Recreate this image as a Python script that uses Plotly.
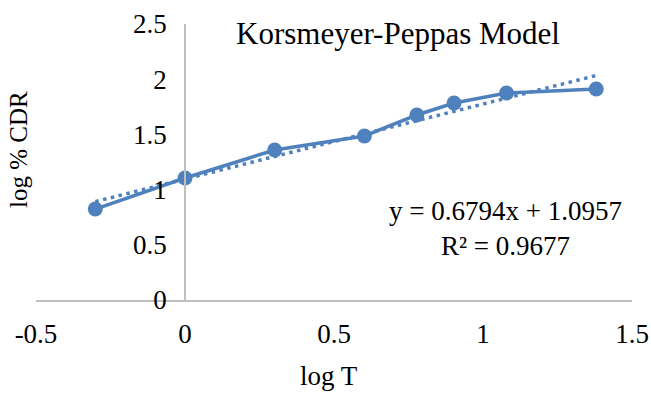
import plotly.graph_objects as go

log_t = [-0.301, 0.0, 0.301, 0.602, 0.778, 0.903, 1.079, 1.380]
log_cdr = [0.824, 1.105, 1.359, 1.486, 1.676, 1.784, 1.875, 1.911]
slope = 0.6794
intercept = 1.0957
r2 = 0.9677
x_ticks = [-0.5, 0, 0.5, 1, 1.5]
y_ticks = [0, 0.5, 1, 1.5, 2, 2.5]

blue = "#4F81BD"
font = "Liberation Serif, Times New Roman, serif"
trend_y = [slope * v + intercept for v in log_t]

W, H = 651, 393
l, r, t, b = 36, 19, 24, 93
pw, ph = W - l - r, H - t - b
def px(xp):
    return (xp - l) / pw
def py(yp):
    return (H - b - yp) / ph

fig = go.Figure()
fig.add_trace(go.Scatter(x=log_t, y=trend_y, mode="lines",
                         line=dict(color=blue, width=3.5, dash="3.5px,4.5px"), showlegend=False))
fig.add_trace(go.Scatter(x=log_t, y=log_cdr, mode="lines+markers",
                         line=dict(color=blue, width=3.5),
                         marker=dict(color=blue, size=15), showlegend=False))

fig.update_layout(
    width=W, height=H,
    margin=dict(l=l, r=r, t=t, b=b, autoexpand=False),
    paper_bgcolor="white", plot_bgcolor="white",
    font=dict(family=font, size=24, color="black"),
    xaxis=dict(range=[-0.5, 1.5], tickvals=x_ticks, ticktext=[str(v) for v in x_ticks],
               showgrid=False, zeroline=False, showline=True, linecolor="#BFBFBF",
               linewidth=1.5, ticks="", ticklabelstandoff=9, tickfont=dict(size=27),
               automargin=False),
    yaxis=dict(range=[0, 2.5], tickvals=y_ticks, ticktext=[str(v) for v in y_ticks],
               showgrid=False, zeroline=False, showline=True, linecolor="#BFBFBF",
               linewidth=1.5, ticks="", anchor="free", position=0.25,
               ticklabelstandoff=12, tickfont=dict(size=27), automargin=False),
    annotations=[
        dict(text="Korsmeyer-Peppas Model", xref="paper", yref="paper", x=px(398), y=py(33),
             xanchor="center", yanchor="middle", showarrow=False, font=dict(size=31)),
        dict(text=f"y = {slope}x + {intercept}<br>R² = {r2}", xref="paper", yref="paper",
             x=px(505), y=py(228), xanchor="center", yanchor="middle", align="center",
             showarrow=False, font=dict(size=27)),
        dict(text="log % CDR", textangle=-90, xref="paper", yref="paper", x=px(18), y=py(150),
             xanchor="center", yanchor="middle", showarrow=False, font=dict(size=25)),
        dict(text="log T", xref="paper", yref="paper", x=px(329), y=py(393),
             xanchor="center", yanchor="bottom", showarrow=False, font=dict(size=27)),
    ],
)

fig.write_html("out.html")
